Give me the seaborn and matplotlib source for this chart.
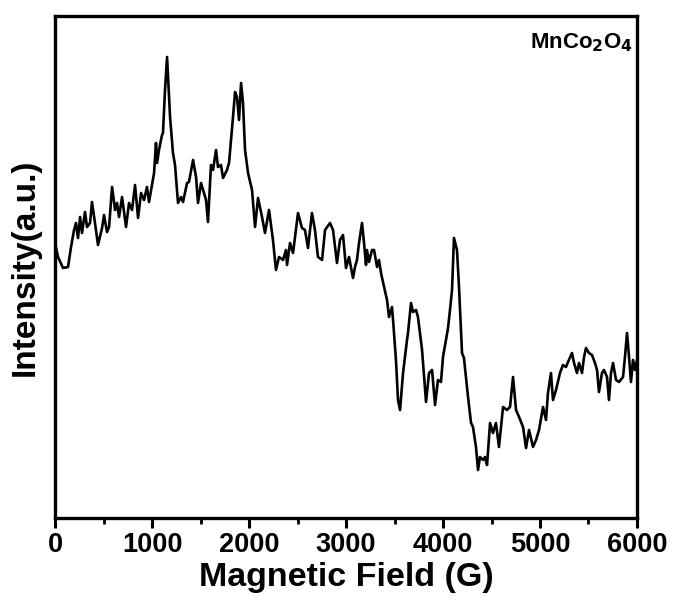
import matplotlib
matplotlib.use("Agg")
import matplotlib.pyplot as plt
from matplotlib.ticker import MultipleLocator
import pandas as pd
import seaborn as sns

# EPR spectrum of MnCo2O4: field (G) and intensity (a.u.)
field_G = [
    0, 31, 82, 134, 165, 196, 216, 237, 258, 278,
    309, 330, 361, 381, 412, 443, 485, 505, 536, 557,
    588, 619, 639, 660, 691, 732, 763, 794, 825, 856,
    887, 918, 948, 969, 1000, 1021, 1041, 1052, 1072, 1103,
    1113, 1134, 1155, 1165, 1186, 1216, 1237, 1268, 1299, 1320,
    1361, 1381, 1423, 1454, 1474, 1505, 1526, 1557, 1577, 1608,
    1629, 1660, 1680, 1711, 1732, 1773, 1794, 1835, 1856, 1876,
    1897, 1918, 1938, 1959, 1990, 2031, 2062, 2093, 2134, 2165,
    2206, 2247, 2278, 2309, 2351, 2381, 2392, 2423, 2454, 2505,
    2546, 2577, 2608, 2649, 2680, 2711, 2753, 2784, 2835, 2866,
    2907, 2938, 2969, 3000, 3031, 3072, 3093, 3113, 3134, 3165,
    3186, 3206, 3216, 3237, 3268, 3289, 3320, 3340, 3361, 3381,
    3423, 3443, 3474, 3485, 3515, 3536, 3557, 3588, 3629, 3639,
    3670, 3691, 3722, 3742, 3784, 3825, 3856, 3887, 3918, 3948,
    3979, 4000, 4031, 4052, 4072, 4093, 4113, 4144, 4165, 4196,
    4216, 4258, 4289, 4309, 4340, 4361, 4381, 4412, 4433, 4454,
    4485, 4515, 4546, 4577, 4619, 4660, 4691, 4722, 4753, 4784,
    4825, 4856, 4887, 4928, 4959, 4990, 5031, 5062, 5082, 5113,
    5134, 5165, 5206, 5237, 5268, 5289, 5330, 5351, 5381, 5402,
    5433, 5454, 5474, 5505, 5536, 5567, 5588, 5608, 5639, 5660,
    5691, 5711, 5732, 5753, 5784, 5814, 5856, 5876, 5897, 5918,
    5938, 5959, 5979, 6000,
]
intensity = [
    275, 261, 250, 251, 271, 288, 295, 280, 301, 285,
    306, 291, 295, 316, 295, 273, 290, 303, 286, 291,
    331, 308, 315, 301, 321, 291, 315, 308, 333, 300,
    325, 318, 331, 316, 333, 345, 375, 355, 368, 383,
    385, 428, 461, 441, 401, 365, 353, 315, 321, 316,
    335, 336, 358, 341, 315, 335, 328, 318, 296, 353,
    348, 368, 351, 353, 340, 348, 355, 401, 426, 421,
    398, 435, 415, 368, 345, 328, 291, 320, 301, 285,
    308, 278, 248, 261, 258, 268, 253, 275, 265, 305,
    290, 288, 270, 305, 288, 261, 258, 288, 295, 288,
    255, 278, 283, 250, 261, 240, 251, 258, 275, 295,
    275, 253, 268, 256, 268, 268, 251, 258, 245, 236,
    218, 201, 211, 198, 158, 118, 108, 145, 178, 185,
    215, 206, 208, 201, 168, 116, 145, 148, 113, 138,
    136, 161, 178, 190, 208, 228, 280, 268, 231, 165,
    160, 121, 95, 91, 71, 48, 61, 58, 61, 53,
    95, 85, 95, 71, 111, 108, 111, 141, 108, 101,
    91, 70, 88, 71, 78, 88, 111, 98, 125, 145,
    118, 128, 145, 153, 151, 156, 165, 155, 145, 155,
    145, 161, 170, 165, 163, 155, 148, 126, 145, 148,
    141, 118, 145, 155, 138, 136, 141, 161, 185, 161,
    136, 158, 148, 158,
]
x_ticks = [0, 1000, 2000, 3000, 4000, 5000, 6000]

df = pd.DataFrame({"field": field_G, "intensity": intensity})

sns.set_theme(style="ticks")
plt.rcParams["font.family"] = ["Liberation Sans", "DejaVu Sans"]
plt.rcParams["font.weight"] = "bold"
plt.rcParams["text.color"] = "black"
plt.rcParams["axes.labelcolor"] = "black"
plt.rcParams["xtick.color"] = "black"
plt.rcParams["xtick.labelcolor"] = "black"

fig = plt.figure(figsize=(6.76, 6.05), dpi=100)
ax = fig.add_axes([0.0814, 0.1438, 0.8609, 0.8298])

sns.lineplot(data=df, x="field", y="intensity", ax=ax, color="black",
             linewidth=1.9, estimator=None, sort=False)

ax.set_xlim(0, 6000)
ax.set_ylim(0, 502)
ax.set_xticks(x_ticks)
ax.set_xticklabels([str(t) for t in x_ticks], fontsize=19.5, fontweight="bold",
                   color="black")
ax.xaxis.set_minor_locator(MultipleLocator(500))
ax.set_yticks([])

ax.tick_params(axis="x", which="major", direction="out", length=7, width=2.2,
               color="black", pad=3)
ax.tick_params(axis="x", which="minor", direction="out", length=4, width=2.0,
               color="black")

for side in ["left", "right", "top", "bottom"]:
    ax.spines[side].set_visible(True)
    ax.spines[side].set_linewidth(2.4)
    ax.spines[side].set_color("black")

ax.set_xlabel("Magnetic Field (G)", fontsize=24.5, fontweight="bold",
              labelpad=3, color="black")
ax.set_ylabel("Intensity(a.u.)", fontsize=24, fontweight="bold",
              labelpad=10, color="black")

ax.text(0.993, 0.97, r"MnCo$_\mathbf{2}$O$_\mathbf{4}$", transform=ax.transAxes,
        ha="right", va="top", fontsize=16, fontweight="bold", color="black")

fig.savefig("out.png", dpi=100, facecolor="white")
